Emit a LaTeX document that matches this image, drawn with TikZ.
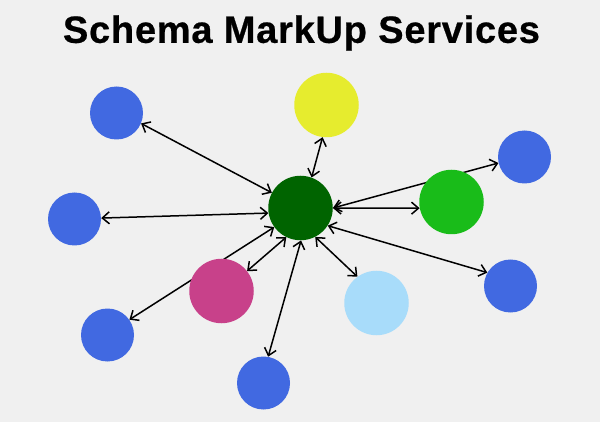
\documentclass[tikz,border=0pt]{standalone}
\usepackage{fontspec}
\setmainfont{Liberation Sans}
\usetikzlibrary{arrows.meta}
\definecolor{pagebg}{HTML}{F0F0F0}
\definecolor{hubgreen}{HTML}{006400}
\definecolor{svcblue}{HTML}{4169E1}
\definecolor{svcyellow}{HTML}{E6EC2E}
\definecolor{svcgreen}{HTML}{19BC19}
\definecolor{svcsky}{HTML}{A8DCFA}
\definecolor{svcpink}{HTML}{C8418A}
\pgfdeclarelayer{paper}
\pgfdeclarelayer{links}
\pgfsetlayers{paper,links,main}
\tikzset{
	bigdot/.style={circle,inner sep=0pt,minimum size=64.5pt,fill=#1},
	smalldot/.style={circle,inner sep=0pt,minimum size=53pt,fill=svcblue},
	link/.style={line width=1.5pt,black,{Straight Barb[length=7pt,width=12pt]}-{Straight Barb[length=7pt,width=12pt]}}
}
\begin{document}
\begin{tikzpicture}[x=1pt,y=-1pt]
	\useasboundingbox (0,0) rectangle (600,422);
	\begin{pgfonlayer}{paper}
		\fill[pagebg] (0,0) rectangle (600,422);
	\end{pgfonlayer}
	\node[font=\bfseries\fontsize{38}{38}\selectfont\addfontfeature{LetterSpace=2,FakeBold=0.6}] (title) at (301.5,33) {Schema MarkUp Services};
	\node[bigdot=hubgreen] (hub) at (300.5,208) {};
	\node[bigdot=svcyellow] (yellow) at (326.5,105) {};
	\node[bigdot=svcgreen] (green) at (451.5,202) {};
	\node[bigdot=svcsky] (sky) at (376.5,303) {};
	\node[bigdot=svcpink] (pink) at (221.5,291) {};
	\node[smalldot] (blueA) at (116.5,113) {};
	\node[smalldot] (blueB) at (74.5,219) {};
	\node[smalldot] (blueC) at (107.5,335) {};
	\node[smalldot] (blueD) at (263.5,383) {};
	\node[smalldot] (blueE) at (510.5,286) {};
	\node[smalldot] (blueF) at (524.5,157) {};
	% the green and pink dots hide the links that run behind them
	\begin{pgfonlayer}{links}
		\draw[link] (hub.152) -- (blueA.337);
		\draw[link] (hub.189) -- (blueB.2);
		\draw[link] (hub.216) -- (blueC.35);
		\draw[link] (hub.271) -- (blueD.80);
		\draw[link] (hub.327) -- (blueE.150);
		\draw[link] (hub.0) -- (blueF.193);
		\draw[link] (hub.70) -- (yellow.263);
		\draw[link] (hub.0) -- (green.191);
		\draw[link] (hub.297) -- (sky.126);
		\draw[link] (hub.244) -- (pink.38);
	\end{pgfonlayer}
\end{tikzpicture}
\end{document}
